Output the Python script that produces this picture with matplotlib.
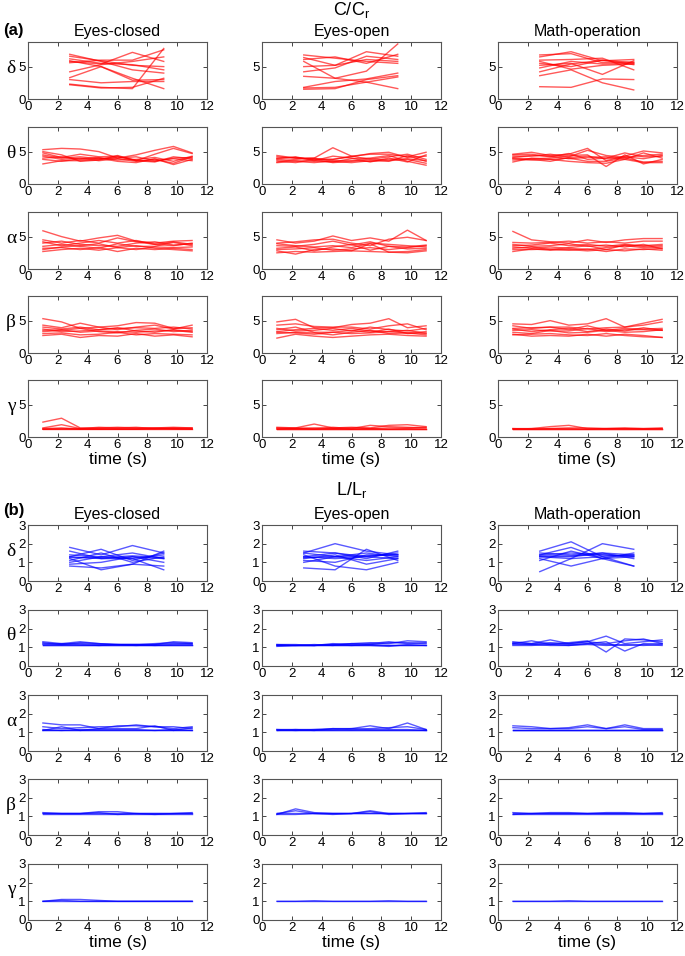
import matplotlib
matplotlib.use("Agg")
import matplotlib.pyplot as plt

plt.rcParams['font.family'] = ['Liberation Sans', 'DejaVu Sans']

conditions = ['Eyes-closed', 'Eyes-open', 'Math-operation']
bands = ['δ', 'θ', 'α', 'β', 'γ']

# x samples (s): delta uses 4 windows, the other bands 9
t_delta = [2.8, 4.9, 7.0, 9.1]
t_band = [1, 2.25, 3.5, 4.75, 6, 7.25, 8.5, 9.75, 11]

# ---------------- (a) C/Cr ----------------
a_delta_closed = [[6.6, 5.9, 5.2, 5.0], [6.2, 5.5, 5.3, 4.5], [5.8, 5.4, 7.2, 5.8],
                  [5.6, 6.0, 6.0, 7.6], [5.9, 5.0, 3.2, 1.6], [4.2, 5.3, 5.8, 6.5],
                  [3.3, 5.0, 2.9, 3.0], [3.0, 2.5, 2.7, 2.7], [2.3, 1.8, 1.6, 7.8],
                  [6.9, 5.8, 4.5, 4.0], [2.2, 1.7, 1.8, 3.2]]
a_delta_open = [[6.8, 6.3, 5.8, 5.5], [6.4, 5.2, 7.3, 6.6], [6.1, 6.5, 5.5, 6.9],
                [5.8, 3.2, 4.3, 8.5], [5.0, 5.2, 6.1, 5.8], [4.2, 4.8, 6.6, 6.1],
                [3.5, 3.2, 2.6, 1.6], [1.8, 2.7, 3.1, 4.0], [1.5, 1.6, 3.0, 3.6],
                [1.7, 1.8, 2.6, 3.4]]
a_delta_math = [[6.8, 7.0, 5.6, 5.7], [6.5, 7.3, 5.9, 6.1], [6.0, 6.1, 6.3, 4.5],
                [5.5, 5.0, 6.0, 5.3], [5.2, 5.5, 3.8, 5.9], [4.2, 5.4, 6.0, 5.6],
                [3.6, 4.5, 2.5, 1.4], [1.9, 1.8, 3.1, 3.0], [4.8, 5.8, 5.4, 5.5],
                [5.8, 4.6, 5.2, 5.4]]

a_theta_closed = [[5.3, 5.5, 5.4, 5.0, 4.0, 4.5, 5.2, 5.8, 4.8],
                  [4.8, 4.1, 4.6, 4.2, 4.3, 3.6, 4.6, 5.5, 4.7],
                  [4.3, 3.8, 4.0, 3.6, 3.9, 3.5, 3.8, 3.2, 4.2],
                  [4.0, 4.2, 3.8, 4.0, 3.5, 3.3, 3.9, 3.0, 3.8],
                  [3.1, 3.6, 3.6, 3.8, 4.2, 3.7, 3.5, 4.0, 4.1],
                  [4.5, 4.0, 4.2, 3.9, 4.0, 4.2, 3.6, 3.9, 3.6],
                  [3.8, 3.5, 3.9, 4.1, 3.7, 3.8, 4.1, 3.5, 4.3],
                  [5.0, 4.5, 3.5, 3.7, 4.4, 3.6, 3.4, 4.2, 3.9]]
a_theta_open = [[4.4, 4.0, 4.0, 5.6, 4.3, 4.6, 4.6, 4.2, 4.9],
                [4.0, 4.1, 3.7, 3.8, 4.2, 4.7, 4.9, 4.1, 4.3],
                [3.8, 3.6, 3.5, 3.4, 3.9, 4.0, 4.4, 3.5, 2.9],
                [3.4, 3.8, 4.0, 3.5, 3.3, 3.6, 3.5, 4.4, 3.5],
                [4.2, 4.0, 3.9, 3.8, 4.3, 3.8, 4.2, 4.6, 3.8],
                [3.6, 3.3, 3.8, 3.3, 3.5, 3.9, 3.6, 3.8, 3.2],
                [3.9, 4.2, 3.6, 4.3, 4.0, 3.4, 4.0, 3.4, 4.5],
                [3.3, 3.5, 3.3, 3.6, 3.6, 3.5, 3.8, 3.9, 3.6]]
a_theta_math = [[4.6, 4.9, 4.4, 4.6, 5.5, 3.6, 4.3, 5.1, 4.8],
                [4.3, 4.3, 4.6, 4.2, 5.2, 4.4, 4.1, 4.4, 4.6],
                [4.0, 3.9, 4.0, 4.4, 4.5, 2.7, 4.5, 3.1, 3.8],
                [3.4, 4.0, 3.8, 4.0, 3.5, 3.5, 4.0, 3.4, 3.5],
                [4.5, 4.6, 4.2, 4.7, 3.8, 4.0, 4.8, 4.2, 4.3],
                [3.9, 3.7, 3.8, 3.5, 3.3, 3.2, 3.8, 3.3, 3.3],
                [4.1, 4.4, 4.3, 3.9, 4.1, 4.2, 3.8, 4.8, 4.0],
                [3.7, 3.8, 3.5, 4.1, 4.3, 3.9, 4.2, 3.9, 4.4]]

a_alpha_closed = [[5.9, 5.0, 4.3, 4.8, 5.2, 4.3, 4.0, 4.3, 4.4],
                  [4.5, 4.0, 4.4, 4.0, 4.8, 4.2, 3.8, 3.6, 4.0],
                  [4.0, 4.3, 3.8, 3.6, 3.5, 4.0, 4.2, 3.7, 3.9],
                  [3.5, 3.8, 3.5, 3.2, 3.9, 3.5, 3.5, 4.1, 3.6],
                  [3.2, 3.3, 3.0, 3.3, 2.7, 3.2, 3.0, 3.2, 3.0],
                  [2.7, 3.0, 3.2, 2.9, 3.3, 3.6, 3.2, 3.0, 2.8],
                  [3.0, 3.4, 3.6, 3.9, 3.3, 3.0, 3.4, 3.3, 3.4],
                  [4.2, 3.6, 4.0, 4.4, 4.0, 4.4, 3.8, 4.2, 3.8]]
a_alpha_open = [[4.5, 4.0, 4.3, 5.1, 4.4, 4.8, 4.3, 6.0, 4.4],
                [4.0, 4.2, 4.5, 4.6, 4.0, 3.6, 4.6, 4.9, 4.4],
                [3.6, 3.5, 3.8, 4.3, 3.7, 4.2, 3.5, 3.4, 3.7],
                [3.2, 3.4, 2.8, 3.4, 3.8, 2.9, 3.5, 3.1, 3.2],
                [2.8, 2.3, 3.0, 3.1, 2.8, 3.9, 2.6, 2.7, 3.0],
                [2.5, 2.7, 2.6, 2.7, 2.8, 2.7, 2.6, 2.5, 2.8],
                [3.9, 3.6, 3.4, 3.6, 3.3, 4.0, 3.8, 3.6, 3.4],
                [3.0, 3.1, 3.3, 2.9, 3.1, 3.3, 3.0, 3.3, 3.6]]
a_alpha_math = [[5.8, 4.5, 4.2, 4.0, 4.5, 4.1, 4.5, 4.7, 4.7],
                [4.1, 4.0, 4.1, 4.3, 4.0, 4.2, 4.0, 4.3, 4.3],
                [3.6, 3.7, 4.0, 3.6, 3.8, 3.5, 3.8, 3.6, 3.8],
                [3.4, 3.2, 3.4, 3.2, 3.0, 3.3, 3.6, 3.3, 3.4],
                [3.0, 3.0, 3.1, 2.9, 3.1, 2.7, 3.1, 3.0, 3.2],
                [2.7, 3.1, 2.9, 3.0, 2.8, 3.0, 2.8, 3.1, 2.9],
                [3.8, 3.5, 3.6, 3.9, 3.5, 3.7, 3.4, 3.8, 3.1],
                [3.2, 3.4, 3.0, 3.3, 3.6, 3.0, 3.7, 3.5, 3.6]]

a_beta_closed = [[5.3, 4.8, 3.8, 4.0, 3.6, 4.0, 4.3, 3.7, 4.3],
                 [4.3, 3.9, 4.6, 4.0, 4.2, 4.7, 4.6, 3.8, 3.9],
                 [3.7, 3.3, 3.4, 3.6, 3.9, 3.4, 3.2, 3.6, 3.3],
                 [3.3, 3.5, 3.8, 3.3, 3.1, 3.5, 3.7, 3.3, 3.5],
                 [3.0, 3.1, 2.8, 2.9, 3.2, 2.8, 3.0, 2.9, 2.8],
                 [2.7, 2.9, 2.4, 2.7, 2.6, 3.0, 2.6, 2.8, 2.5],
                 [4.0, 3.7, 4.0, 3.6, 3.8, 3.9, 3.8, 4.0, 3.7],
                 [3.5, 3.6, 3.2, 3.4, 3.3, 3.2, 3.4, 3.5, 3.2]]
a_beta_open = [[4.8, 5.2, 3.9, 3.9, 4.4, 4.6, 5.3, 3.9, 4.2],
               [4.3, 4.5, 4.1, 4.0, 4.0, 3.7, 4.2, 4.5, 3.6],
               [3.3, 3.6, 3.8, 3.5, 3.8, 3.4, 3.3, 3.5, 3.0],
               [3.0, 3.2, 3.1, 2.8, 3.2, 3.5, 3.0, 3.1, 3.3],
               [2.3, 2.9, 2.6, 2.4, 2.6, 2.8, 2.9, 2.7, 2.6],
               [3.8, 3.4, 3.5, 3.8, 3.4, 4.0, 3.6, 3.4, 3.8],
               [3.6, 4.0, 3.2, 3.2, 3.5, 3.2, 3.7, 3.0, 3.1],
               [3.2, 3.1, 2.9, 3.2, 3.0, 3.1, 3.3, 3.1, 2.8]]
a_beta_math = [[4.5, 4.4, 5.0, 4.3, 4.5, 5.3, 4.0, 4.6, 5.2],
               [3.8, 3.9, 4.0, 4.0, 3.7, 3.9, 4.0, 4.3, 4.8],
               [3.5, 3.6, 3.4, 3.4, 3.8, 3.3, 3.6, 3.6, 3.5],
               [3.2, 3.0, 3.5, 3.1, 3.2, 3.5, 3.2, 3.3, 3.6],
               [2.9, 2.6, 2.7, 2.6, 2.9, 2.6, 2.9, 2.7, 2.4],
               [2.8, 2.9, 3.0, 2.8, 2.7, 3.0, 2.7, 2.5, 2.4],
               [3.7, 3.3, 3.6, 3.8, 3.3, 3.7, 3.4, 3.9, 3.5],
               [4.2, 3.8, 4.0, 3.6, 4.2, 3.5, 3.8, 3.7, 3.8]]

a_gamma_closed = [[2.3, 2.9, 1.4, 1.4, 1.5, 1.4, 1.4, 1.5, 1.4],
                  [1.4, 1.9, 1.3, 1.5, 1.4, 1.5, 1.3, 1.4, 1.4],
                  [1.3, 1.3, 1.3, 1.3, 1.3, 1.3, 1.3, 1.3, 1.3],
                  [1.2, 1.2, 1.2, 1.3, 1.2, 1.2, 1.2, 1.2, 1.2],
                  [1.3, 1.4, 1.2, 1.2, 1.3, 1.3, 1.4, 1.3, 1.3],
                  [1.2, 1.3, 1.3, 1.2, 1.2, 1.2, 1.3, 1.3, 1.2]]
a_gamma_open = [[1.5, 1.4, 2.0, 1.4, 1.5, 1.4, 1.8, 1.9, 1.6],
                [1.3, 1.4, 1.3, 1.5, 1.3, 1.8, 1.6, 1.5, 1.4],
                [1.3, 1.3, 1.3, 1.3, 1.3, 1.3, 1.3, 1.3, 1.3],
                [1.2, 1.2, 1.2, 1.2, 1.2, 1.2, 1.2, 1.2, 1.2],
                [1.4, 1.3, 1.4, 1.3, 1.4, 1.3, 1.4, 1.4, 1.5],
                [1.2, 1.3, 1.2, 1.3, 1.2, 1.3, 1.2, 1.3, 1.2]]
a_gamma_math = [[1.3, 1.3, 1.6, 1.8, 1.3, 1.3, 1.3, 1.3, 1.3],
                [1.2, 1.3, 1.3, 1.4, 1.4, 1.3, 1.4, 1.3, 1.4],
                [1.3, 1.3, 1.3, 1.3, 1.3, 1.3, 1.3, 1.3, 1.3],
                [1.2, 1.2, 1.2, 1.2, 1.2, 1.2, 1.2, 1.2, 1.2],
                [1.3, 1.2, 1.3, 1.3, 1.2, 1.3, 1.3, 1.2, 1.3]]

# ---------------- (b) L/Lr ----------------
b_delta_closed = [[1.8, 1.4, 1.9, 1.5], [1.6, 1.2, 1.2, 0.6], [1.3, 1.7, 1.1, 1.5],
                  [1.3, 1.2, 1.3, 1.2], [1.2, 0.6, 0.9, 1.6], [1.0, 1.3, 1.5, 1.2],
                  [0.9, 1.0, 1.3, 1.0], [0.8, 0.7, 0.9, 0.8], [1.4, 1.3, 1.2, 1.4],
                  [1.1, 1.5, 1.0, 1.3], [1.25, 1.25, 1.35, 1.25]]
b_delta_open = [[1.6, 1.5, 1.2, 1.6], [1.5, 2.0, 1.6, 1.4], [1.3, 1.2, 1.3, 1.5],
                [1.2, 1.4, 0.9, 1.2], [1.0, 1.3, 1.1, 1.3], [0.7, 0.6, 1.7, 1.1],
                [1.4, 0.8, 0.6, 1.0], [1.1, 1.0, 1.4, 1.4], [1.3, 1.5, 1.3, 1.2],
                [1.5, 1.3, 1.5, 1.3], [1.25, 1.3, 1.35, 1.4]]
b_delta_math = [[0.5, 1.2, 2.0, 1.7], [1.6, 2.1, 1.3, 0.8], [1.5, 1.4, 1.5, 1.4],
                [1.3, 1.2, 1.3, 1.4], [1.2, 0.8, 1.2, 1.5], [1.4, 1.5, 1.4, 1.3],
                [1.1, 1.6, 1.2, 0.8], [1.3, 1.3, 1.5, 1.2], [1.4, 1.8, 1.2, 1.3],
                [1.35, 1.35, 1.4, 1.35]]

b_theta_closed = [[1.3, 1.2, 1.3, 1.2, 1.15, 1.15, 1.15, 1.3, 1.25],
                  [1.2, 1.15, 1.2, 1.15, 1.15, 1.1, 1.15, 1.2, 1.2],
                  [1.1, 1.1, 1.1, 1.1, 1.1, 1.1, 1.1, 1.1, 1.1],
                  [1.15, 1.2, 1.15, 1.1, 1.15, 1.15, 1.1, 1.15, 1.15],
                  [1.25, 1.15, 1.25, 1.2, 1.15, 1.15, 1.2, 1.25, 1.2],
                  [1.12, 1.12, 1.12, 1.12, 1.12, 1.12, 1.12, 1.12, 1.12]]
b_theta_open = [[1.1, 1.1, 1.1, 1.15, 1.2, 1.25, 1.2, 1.35, 1.3],
                [1.15, 1.1, 1.15, 1.1, 1.2, 1.15, 1.25, 1.25, 1.2],
                [1.1, 1.1, 1.1, 1.1, 1.1, 1.15, 1.1, 1.1, 1.1],
                [1.15, 1.15, 1.1, 1.2, 1.15, 1.2, 1.3, 1.2, 1.25],
                [1.05, 1.1, 1.1, 1.15, 1.1, 1.1, 1.05, 1.15, 1.1],
                [1.12, 1.12, 1.12, 1.12, 1.12, 1.12, 1.12, 1.12, 1.12]]
b_theta_math = [[1.3, 1.2, 1.4, 1.2, 1.3, 1.6, 1.2, 1.3, 1.4],
                [1.2, 1.35, 1.15, 1.25, 1.35, 0.75, 1.45, 1.4, 1.3],
                [1.15, 1.15, 1.2, 1.15, 1.2, 1.3, 0.8, 1.2, 1.2],
                [1.25, 1.2, 1.25, 1.2, 1.3, 1.2, 1.35, 1.45, 1.2],
                [1.1, 1.1, 1.15, 1.1, 1.15, 1.1, 1.15, 1.1, 1.15],
                [1.2, 1.15, 1.1, 1.1, 1.2, 1.15, 1.1, 1.15, 1.1]]

b_alpha_closed = [[1.5, 1.4, 1.4, 1.2, 1.35, 1.35, 1.3, 1.2, 1.3],
                  [1.3, 1.2, 1.25, 1.3, 1.3, 1.4, 1.3, 1.3, 1.2],
                  [1.1, 1.3, 1.1, 1.2, 1.2, 1.2, 1.35, 1.1, 1.25],
                  [1.15, 1.1, 1.1, 1.1, 1.1, 1.1, 1.1, 1.1, 1.1],
                  [1.1, 1.1, 1.15, 1.15, 1.15, 1.15, 1.1, 1.15, 1.1],
                  [1.12, 1.12, 1.12, 1.12, 1.12, 1.12, 1.12, 1.12, 1.12]]
b_alpha_open = [[1.15, 1.15, 1.15, 1.2, 1.2, 1.35, 1.2, 1.5, 1.15],
                [1.1, 1.15, 1.1, 1.2, 1.15, 1.2, 1.25, 1.3, 1.15],
                [1.1, 1.1, 1.1, 1.1, 1.1, 1.1, 1.1, 1.1, 1.1],
                [1.15, 1.1, 1.15, 1.15, 1.2, 1.15, 1.15, 1.15, 1.1],
                [1.12, 1.12, 1.12, 1.12, 1.12, 1.12, 1.12, 1.12, 1.12]]
b_alpha_math = [[1.35, 1.3, 1.2, 1.25, 1.4, 1.2, 1.4, 1.2, 1.2],
                [1.25, 1.2, 1.2, 1.2, 1.3, 1.2, 1.3, 1.15, 1.15],
                [1.1, 1.1, 1.1, 1.1, 1.1, 1.1, 1.1, 1.1, 1.1],
                [1.15, 1.15, 1.15, 1.15, 1.15, 1.15, 1.15, 1.15, 1.15],
                [1.12, 1.12, 1.12, 1.12, 1.12, 1.12, 1.12, 1.12, 1.12]]

b_beta_closed = [[1.2, 1.15, 1.15, 1.25, 1.25, 1.15, 1.15, 1.15, 1.2],
                 [1.15, 1.15, 1.15, 1.2, 1.1, 1.15, 1.1, 1.15, 1.15],
                 [1.15, 1.15, 1.15, 1.15, 1.15, 1.15, 1.15, 1.15, 1.15],
                 [1.17, 1.17, 1.17, 1.17, 1.17, 1.17, 1.17, 1.17, 1.17]]
b_beta_open = [[1.1, 1.4, 1.2, 1.15, 1.15, 1.3, 1.15, 1.15, 1.2],
               [1.15, 1.3, 1.15, 1.1, 1.15, 1.25, 1.1, 1.15, 1.15],
               [1.1, 1.1, 1.15, 1.15, 1.15, 1.15, 1.15, 1.15, 1.15],
               [1.17, 1.17, 1.17, 1.17, 1.17, 1.17, 1.17, 1.17, 1.17]]
b_beta_math = [[1.2, 1.15, 1.2, 1.2, 1.15, 1.2, 1.2, 1.15, 1.2],
               [1.1, 1.15, 1.15, 1.15, 1.15, 1.15, 1.15, 1.15, 1.15],
               [1.15, 1.15, 1.15, 1.15, 1.15, 1.15, 1.15, 1.15, 1.15],
               [1.17, 1.17, 1.17, 1.17, 1.17, 1.17, 1.17, 1.17, 1.17]]

b_gamma_closed = [[1.0, 1.1, 1.1, 1.05, 1.0, 1.0, 1.0, 1.0, 1.0],
                  [1.0, 1.05, 1.0, 1.0, 1.0, 1.0, 1.0, 1.0, 1.0],
                  [1.0, 1.0, 1.0, 1.0, 1.0, 1.0, 1.0, 1.0, 1.0]]
b_gamma_open = [[1.0, 1.0, 1.03, 1.0, 1.0, 1.0, 1.03, 1.0, 1.0],
                [1.0, 1.0, 1.0, 1.0, 1.0, 1.0, 1.0, 1.0, 1.0]]
b_gamma_math = [[1.0, 1.0, 1.0, 1.03, 1.0, 1.0, 1.0, 1.0, 1.0],
                [1.0, 1.0, 1.0, 1.0, 1.0, 1.0, 1.0, 1.0, 1.0]]

part_a = [[a_delta_closed, a_delta_open, a_delta_math],
          [a_theta_closed, a_theta_open, a_theta_math],
          [a_alpha_closed, a_alpha_open, a_alpha_math],
          [a_beta_closed, a_beta_open, a_beta_math],
          [a_gamma_closed, a_gamma_open, a_gamma_math]]
part_b = [[b_delta_closed, b_delta_open, b_delta_math],
          [b_theta_closed, b_theta_open, b_theta_math],
          [b_alpha_closed, b_alpha_open, b_alpha_math],
          [b_beta_closed, b_beta_open, b_beta_math],
          [b_gamma_closed, b_gamma_open, b_gamma_math]]

W, H = 685, 956
fig = plt.figure(figsize=(W / 100, H / 100), dpi=100)

col_left = [28, 262, 498]
col_w = 179
axc = '#262626'


def px_axes(x, y, w, h):
    return fig.add_axes([x / W, 1 - (y + h) / H, w / W, h / H])


def draw_part(data, tops, h, color, ylim, yticks, letter, title, title_y):
    fig.text(3 / W, 1 - (title_y + 20) / H, letter, fontsize=12,
             fontweight='bold', ha='left', va='center')
    fig.text((col_left[1] + col_w / 2) / W, 1 - title_y / H, title,
             fontsize=13, ha='center', va='center')
    for r, row in enumerate(data):
        for c, lines in enumerate(row):
            ax = px_axes(col_left[c], tops[r], col_w, h)
            t = t_delta if r == 0 else t_band
            for vals in lines:
                ax.plot(t, vals, color=color, lw=1.0, alpha=0.65)
            ax.set_xlim(0, 12)
            ax.set_ylim(*ylim)
            ax.set_xticks(range(0, 13, 2))
            ax.set_yticks(yticks)
            ax.tick_params(direction='in', length=3, width=0.6, labelsize=9.5,
                           top=True, right=True, pad=1.5, colors=axc,
                           labelcolor='black')
            for s in ax.spines.values():
                s.set_color('#555555')
                s.set_linewidth(0.8)
            if r == 0:
                ax.set_title(conditions[c], fontsize=11.5, pad=4)
            if r == 4:
                ax.set_xlabel('time (s)', fontsize=12.5, labelpad=1)
            if c == 0:
                fig.text(11 / W, 1 - (tops[r] + h / 2 - 2) / H, bands[r],
                         fontsize=14, ha='center', va='center',
                         family=['Liberation Serif', 'DejaVu Serif'])


tops_a = [42, 127, 212, 296, 380]
tops_b = [525, 610, 695, 779, 864]
draw_part(part_a, tops_a, 57, '#ff0000', (0, 8.8), [0, 5], '(a)', 'C/C$_\\mathregular{r}$', 10)
draw_part(part_b, tops_b, 56, '#0000ff', (0, 3), [0, 1, 2, 3], '(b)', 'L/L$_\\mathregular{r}$', 490)

fig.savefig('out.png', dpi=100)
